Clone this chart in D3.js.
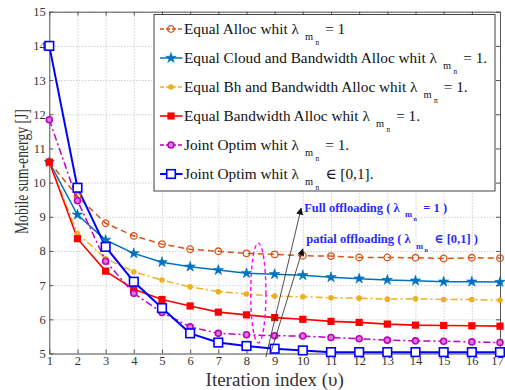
<!DOCTYPE html>
<html>
<head>
<meta charset="utf-8">
<script src="https://cdn.jsdelivr.net/npm/d3@7"></script>
<style>
  body { margin: 0; background: #fff; }
  text { font-family: "Liberation Serif", "DejaVu Serif", serif; }
</style>
</head>
<body>
<div class="chart"></div>
<script>
// Data.
const iterations = d3.range(1, 18);
const equalAlloc = [10.6, 9.6, 8.81, 8.44, 8.2, 8.05, 7.99, 7.93, 7.9, 7.86, 7.85, 7.81, 7.81, 7.8, 7.78, 7.8, 7.79];
const equalCloudBw = [10.6, 9.06, 8.32, 7.93, 7.67, 7.54, 7.44, 7.35, 7.32, 7.29, 7.23, 7.19, 7.15, 7.13, 7.1, 7.1, 7.09];
const equalBhBw = [10.6, 8.51, 7.78, 7.39, 7.15, 6.95, 6.81, 6.74, 6.68, 6.66, 6.63, 6.62, 6.59, 6.6, 6.58, 6.58, 6.56];
const equalBw = [10.6, 8.36, 7.41, 6.88, 6.58, 6.39, 6.21, 6.13, 6.05, 6.0, 5.94, 5.91, 5.86, 5.83, 5.82, 5.81, 5.8];
const jointFull = [11.84, 9.47, 7.7, 6.76, 6.2, 5.78, 5.59, 5.55, 5.52, 5.51, 5.47, 5.43, 5.39, 5.37, 5.36, 5.34, 5.32];
const jointPartial = [14.0, 9.85, 8.12, 7.1, 6.33, 5.59, 5.32, 5.22, 5.14, 5.09, 5.04, 5.04, 5.04, 5.04, 5.04, 5.04, 5.04];

const xTicks = d3.range(1, 18);
const yTicks = d3.range(5, 16);

const legendLabels = [
  ["Equal  Alloc whit λ", "= 1"],
  ["Equal Cloud and Bandwidth Alloc whit λ", "= 1."],
  ["Equal Bh and Bandwidth Alloc whit λ", "= 1."],
  ["Equal Bandwidth Alloc whit λ", "= 1."],
  ["Joint Optim whit λ", "= 1."],
  ["Joint Optim whit λ", "∈ [0,1]."],
];

// Series styles.
const series = [
  { values: equalAlloc, color: "#D95319", dash: "6,4", marker: "ocircle", width: 1.5 },
  { values: equalCloudBw, color: "#0072BD", dash: null, marker: "star", width: 1.5 },
  { values: equalBhBw, color: "#EDB120", dash: "7,3,2,3", marker: "dot", width: 1.5 },
  { values: equalBw, color: "#FF0000", dash: null, marker: "square", width: 1.6 },
  { values: jointFull, color: "#BF00BF", dash: "7,3,2,3", marker: "hex", width: 1.5 },
  { values: jointPartial, color: "#0000FF", dash: null, marker: "osquare", width: 2 },
];

// Annotations (data coordinates).
const ellipse = { cx: 8.42, cy: 6.77, rx: 0.27, ry: 1.46 };
const arrows = [
  { from: [8.69, 4.9], to: [9.94, 9.25] },
  { from: [8.87, 5.04], to: [10.0, 8.06] },
];
const notes = [
  { x: 10.05, y: 9.15, text: "Full offloading ( λ", tail: "= 1 )" },
  { x: 10.12, y: 8.22, text: "patial offloading ( λ", tail: "∈ [0,1] )" },
];

const W = 505, H = 390;
const margin = { top: 11.7, right: 5, bottom: 36.5, left: 49.3 };
const width = W - margin.left - margin.right;
const height = H - margin.top - margin.bottom;

const svg = d3.select(".chart").append("svg")
  .attr("width", W).attr("height", H);

const defs = svg.append("defs");
defs.append("marker")
  .attr("id", "arrow")
  .attr("viewBox", "0 0 10 10")
  .attr("refX", 9).attr("refY", 5)
  .attr("markerWidth", 9).attr("markerHeight", 7)
  .attr("markerUnits", "userSpaceOnUse")
  .attr("orient", "auto")
  .append("path")
  .attr("d", "M0,0 L10,5 L0,10 Z")
  .attr("fill", "#111");

const g = svg.append("g").attr("transform", `translate(${margin.left},${margin.top})`);

const xScale = d3.scaleLinear().domain([1, 17]).range([0, width]);
const yScale = d3.scaleLinear().domain([5, 15]).range([height, 0]);

// Grid.
g.append("g")
  .attr("transform", `translate(0,${height})`)
  .call(d3.axisBottom(xScale).tickValues(xTicks).tickSize(-height).tickFormat(""))
  .call((s) => s.select(".domain").remove())
  .selectAll("line")
  .attr("stroke", "#b8b8b8").attr("stroke-dasharray", "1,2");
g.append("g")
  .call(d3.axisLeft(yScale).tickValues(yTicks).tickSize(-width).tickFormat(""))
  .call((s) => s.select(".domain").remove())
  .selectAll("line")
  .attr("stroke", "#b8b8b8").attr("stroke-dasharray", "1,2");

// Box with inward ticks on all sides.
function styleAxis(s) {
  s.select(".domain").attr("stroke", "#555").attr("stroke-width", 1);
  s.selectAll(".tick line").attr("stroke", "#555");
  s.selectAll("text")
    .style("font-family", "'Liberation Serif', serif")
    .style("font-size", "12.5px")
    .attr("fill", "#333");
}

const xAxisDraw = g.append("g")
  .attr("transform", `translate(0,${height})`)
  .call(d3.axisBottom(xScale).tickValues(xTicks).tickSizeInner(-4).tickSizeOuter(0).tickPadding(3))
  .call(styleAxis);
// last label sits right on the edge, nudge it in a little
xAxisDraw.selectAll(".tick text").filter((d) => d === 17).attr("dx", -3);

g.append("g")
  .call(d3.axisTop(xScale).tickValues(xTicks).tickSizeInner(-4).tickSizeOuter(0).tickFormat(""))
  .call(styleAxis);
g.append("g")
  .call(d3.axisLeft(yScale).tickValues(yTicks).tickSizeInner(-4).tickSizeOuter(0).tickPadding(3.5))
  .call(styleAxis);
g.append("g")
  .attr("transform", `translate(${width},0)`)
  .call(d3.axisRight(yScale).tickValues(yTicks).tickSizeInner(-4).tickSizeOuter(0).tickFormat(""))
  .call(styleAxis);

// Lines.
const lineGen = d3.line()
  .x((d, i) => xScale(iterations[i]))
  .y((d) => yScale(d));

g.append("g").selectAll("path.series")
  .data(series)
  .join("path")
  .attr("class", "series")
  .attr("d", (d) => lineGen(d.values))
  .attr("fill", "none")
  .attr("stroke", (d) => d.color)
  .attr("stroke-width", (d) => d.width)
  .attr("stroke-dasharray", (d) => d.dash);

// Markers.
function drawMarker(sel, s) {
  const c = s.color;
  if (s.marker === "ocircle") {
    sel.append("circle").attr("r", 3.3).attr("fill", "none").attr("stroke", c).attr("stroke-width", 1.3);
  } else if (s.marker === "star") {
    sel.append("path").attr("d", d3.symbol(d3.symbolStar, 34)()).attr("fill", c).attr("stroke", c).attr("stroke-width", 0.6);
  } else if (s.marker === "dot") {
    sel.append("circle").attr("r", 2.8).attr("fill", c);
  } else if (s.marker === "square") {
    sel.append("rect").attr("x", -3.6).attr("y", -3.6).attr("width", 7.2).attr("height", 7.2).attr("fill", c);
  } else if (s.marker === "hex") {
    sel.append("circle").attr("r", 3).attr("fill", "#d77ad7").attr("stroke", c).attr("stroke-width", 1.6);
  } else if (s.marker === "osquare") {
    sel.append("rect").attr("x", -4.3).attr("y", -4.3).attr("width", 8.6).attr("height", 8.6)
      .attr("fill", "#fff").attr("stroke", c).attr("stroke-width", 1.6);
  }
}

series.forEach((s) => {
  g.append("g").selectAll("g")
    .data(s.values)
    .join("g")
    .attr("transform", (d, i) => `translate(${xScale(iterations[i])},${yScale(d)})`)
    .each(function () { drawMarker(d3.select(this), s); });
});

// Ellipse and arrows.
g.append("ellipse")
  .attr("cx", xScale(ellipse.cx))
  .attr("cy", yScale(ellipse.cy))
  .attr("rx", xScale(ellipse.cx + ellipse.rx) - xScale(ellipse.cx))
  .attr("ry", yScale(ellipse.cy - ellipse.ry) - yScale(ellipse.cy))
  .attr("fill", "none")
  .attr("stroke", "#FF00FF")
  .attr("stroke-width", 1.4)
  .attr("stroke-dasharray", "4,3");

g.selectAll("line.arrow")
  .data(arrows)
  .join("line")
  .attr("class", "arrow")
  .attr("x1", (d) => xScale(d.from[0])).attr("y1", (d) => yScale(d.from[1]))
  .attr("x2", (d) => xScale(d.to[0])).attr("y2", (d) => yScale(d.to[1]))
  .attr("stroke", "#222").attr("stroke-width", 0.8)
  .attr("marker-end", "url(#arrow)");

// Lambda with m_n subscript.
function lambdaText(t, main, tail, size, color, bold, gaps) {
  t.attr("fill", color).style("font-size", size + "px").style("font-weight", bold ? "bold" : "normal");
  t.append("tspan").text(main);
  t.append("tspan").text("m").style("font-size", (size * 0.68) + "px")
    .attr("dx", gaps[0]).attr("dy", size * 0.42);
  t.append("tspan").text("n").style("font-size", (size * 0.48) + "px")
    .attr("dx", gaps[1]).attr("dy", size * 0.3);
  t.append("tspan").text(tail).attr("dx", gaps[2]).attr("dy", -size * 0.72);
}

notes.forEach((n) => {
  const t = g.append("text")
    .attr("x", xScale(n.x))
    .attr("y", yScale(n.y));
  lambdaText(t, n.text, n.tail, 12.5, "#2a2aff", true, [5.5, 1.2, 6.5]);
});

// Legend.
const legend = svg.append("g").attr("class", "legend");
legend.append("rect")
  .attr("x", 154).attr("y", 14.5)
  .attr("width", 341).attr("height", 176.5)
  .attr("fill", "#fff").attr("stroke", "#444").attr("stroke-width", 1);

series.forEach((s, i) => {
  const row = legend.append("g").attr("transform", `translate(0,${29 + i * 29})`);
  row.append("line")
    .attr("x1", 160).attr("x2", 182.5)
    .attr("stroke", s.color)
    .attr("stroke-width", s.width)
    .attr("stroke-dasharray", s.dash ? "4,2" : null);
  drawMarker(row.append("g").attr("transform", "translate(171,0)"), s);
  const t = row.append("text").attr("x", 184).attr("y", 4.5);
  lambdaText(t, legendLabels[i][0], legendLabels[i][1], 15.3, "#111", false, [6, 2.5, 6]);
});

// Axis titles.
svg.append("text")
  .attr("x", margin.left + width / 2)
  .attr("y", 386)
  .attr("text-anchor", "middle")
  .style("font-size", "19px")
  .attr("fill", "#333")
  .text("Iteration index (υ)");

// picture is stretched sideways, so the vertical title is squeezed along its length
svg.append("text")
  .attr("transform", `translate(22,${margin.top + height / 2 - 11}) rotate(-90) scale(0.76,1)`)
  .attr("text-anchor", "middle")
  .attr("dy", "0.35em")
  .style("font-size", "18px")
  .attr("fill", "#333")
  .text("Mobile sum-energy [J]");
</script>
</body>
</html>
